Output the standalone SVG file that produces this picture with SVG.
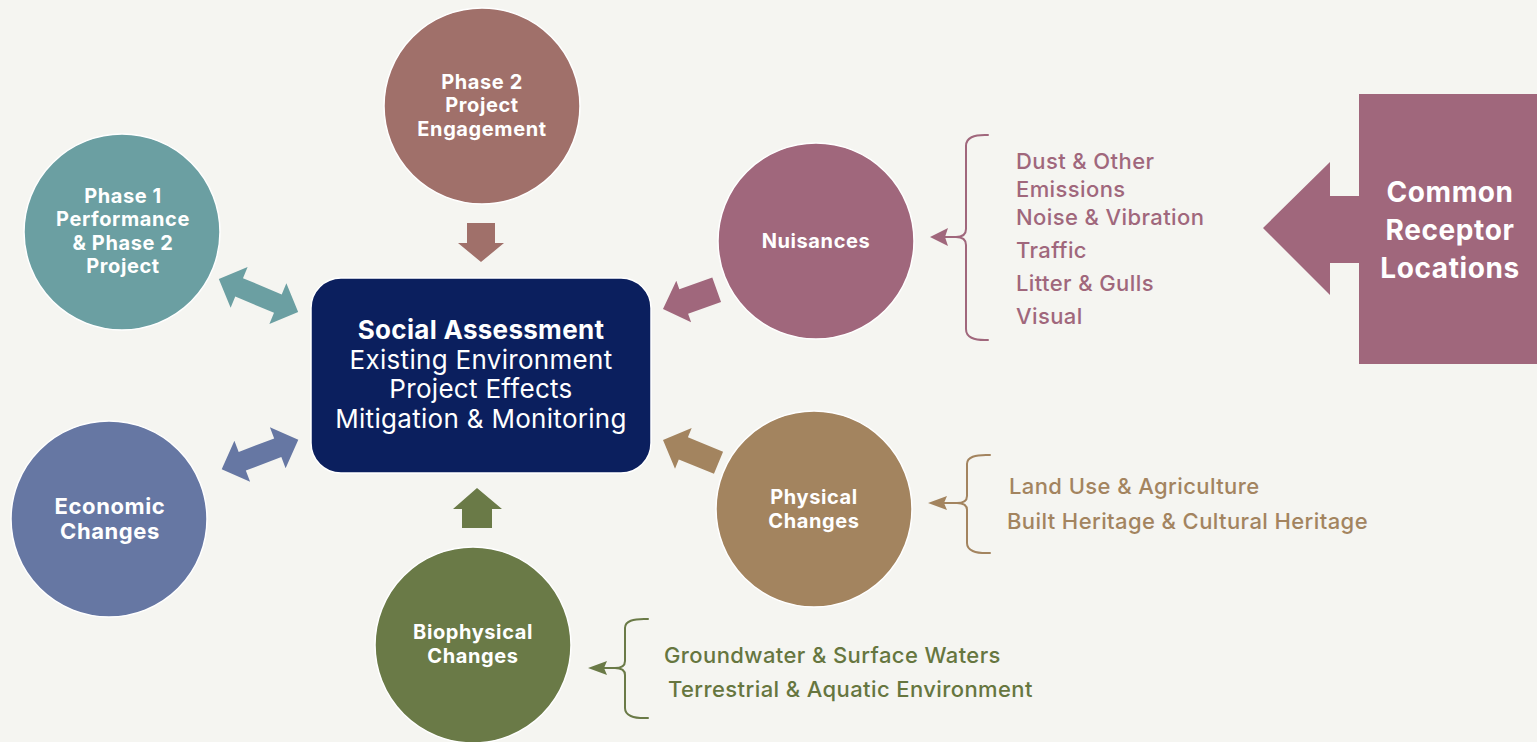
<svg xmlns="http://www.w3.org/2000/svg" width="1537" height="742" viewBox="0 0 1537 742">
  <style>
    .bg { fill: #f5f5f1; }
    .node circle { stroke: #ffffff; stroke-width: 1.5; }
    .lbl { font-family: Inter, "Open Sans", "Liberation Sans", sans-serif; font-weight: 700; fill: #ffffff; text-anchor: middle; letter-spacing: 0.6px; }
    .core { font-family: Inter, "Open Sans", "Liberation Sans", sans-serif; font-size: 26px; fill: #ffffff; text-anchor: middle; letter-spacing: 0.3px; }
    .list { font-family: Inter, "Open Sans", "Liberation Sans", sans-serif; font-weight: 500; font-size: 22px; letter-spacing: 0.4px; }
    .brace { fill: none; stroke-width: 2; stroke-linecap: round; stroke-linejoin: round; }
    .mauve { fill: #a0677c; }
    .tan { fill: #a3845f; }
    .olive { fill: #6a7a47; }
  </style>
  <rect class="bg" x="0" y="0" width="1537" height="742"/>

  <!-- central node -->
  <g id="social-assessment">
    <rect x="311" y="278" width="340" height="195" rx="30" fill="#0b1f5e" stroke="#ffffff" stroke-width="1.5"/>
    <text class="core" x="481" y="339" font-weight="700" font-size="25.3" letter-spacing="0">Social Assessment</text>
    <text class="core" x="481" y="369">Existing Environment</text>
    <text class="core" x="481" y="398">Project Effects</text>
    <text class="core" x="481" y="428">Mitigation &amp; Monitoring</text>
  </g>

  <!-- circles -->
  <g id="phase2-engagement" class="node">
    <circle cx="482" cy="106" r="98" fill="#a0706a"/>
    <text class="lbl" font-size="20" x="482" y="89">Phase 2</text>
    <text class="lbl" font-size="20" x="482" y="112">Project</text>
    <text class="lbl" font-size="20" x="482" y="136">Engagement</text>
  </g>
  <g id="phase1-performance" class="node">
    <circle cx="122" cy="232" r="98" fill="#6b9fa2"/>
    <text class="lbl" font-size="20" x="123" y="203">Phase 1</text>
    <text class="lbl" font-size="20" x="123" y="226">Performance</text>
    <text class="lbl" font-size="20" x="123" y="250">&amp; Phase 2</text>
    <text class="lbl" font-size="20" x="123" y="273">Project</text>
  </g>
  <g id="economic-changes" class="node">
    <circle cx="109" cy="519" r="98" fill="#6677a3"/>
    <text class="lbl" font-size="22" x="110" y="514">Economic</text>
    <text class="lbl" font-size="22" x="110" y="539">Changes</text>
  </g>
  <g id="biophysical-changes" class="node">
    <circle cx="473" cy="645" r="98" fill="#6a7a47"/>
    <text class="lbl" font-size="20" x="473" y="639">Biophysical</text>
    <text class="lbl" font-size="20" x="473" y="663">Changes</text>
  </g>
  <g id="nuisances" class="node">
    <circle cx="816" cy="241" r="98" fill="#a0677c"/>
    <text class="lbl" font-size="20" x="816" y="248">Nuisances</text>
  </g>
  <g id="physical-changes" class="node">
    <circle cx="814" cy="509" r="98" fill="#a3845f"/>
    <text class="lbl" font-size="20" x="814" y="504">Physical</text>
    <text class="lbl" font-size="20" x="814" y="528">Changes</text>
  </g>

  <!-- common receptor locations -->
  <g id="common-receptor-locations">
    <path class="mauve" d="M1359,94 H1537 V364 H1359 V263 H1330 V295 L1263,228 L1330,162 V196 H1359 Z"/>
    <text class="lbl" font-size="28" x="1450" y="202">Common</text>
    <text class="lbl" font-size="28" x="1450" y="240">Receptor</text>
    <text class="lbl" font-size="28" x="1450" y="278">Locations</text>
  </g>

  <!-- lists -->
  <g id="nuisance-list">
    <text class="list" fill="#a0677c" x="1016" y="169">Dust &amp; Other</text>
    <text class="list" fill="#a0677c" x="1016" y="197">Emissions</text>
    <text class="list" fill="#a0677c" x="1016" y="225">Noise &amp; Vibration</text>
    <text class="list" fill="#a0677c" x="1016" y="258">Traffic</text>
    <text class="list" fill="#a0677c" x="1016" y="291">Litter &amp; Gulls</text>
    <text class="list" fill="#a0677c" x="1016" y="324">Visual</text>
  </g>
  <g id="physical-list">
    <text class="list" fill="#a3845f" x="1009" y="494">Land Use &amp; Agriculture</text>
    <text class="list" fill="#a3845f" x="1007" y="529">Built Heritage &amp; Cultural Heritage</text>
  </g>
  <g id="biophysical-list">
    <text class="list" fill="#66763f" x="664" y="663">Groundwater &amp; Surface Waters</text>
    <text class="list" fill="#66763f" x="668" y="697">Terrestrial &amp; Aquatic Environment</text>
  </g>

  <!-- connectors -->
  <g id="connectors">
    <!-- block arrows into the central node -->
    <path fill="#a0706a" d="M467,223 H495 V243 H504 L481,262 L458,243 H467 Z"/>
    <path fill="#6a7a47" d="M462,528 V509 H453 L477,488 L502,509 H492 V528 Z"/>
    <path fill="#6b9fa2" transform="translate(258.5,295.5) rotate(22.7)" d="M-43,0 L-21,-22 L-21,-10 L21,-10 L21,-22 L43,0 L21,22 L21,10 L-21,10 L-21,22 Z"/>
    <path fill="#6677a3" transform="translate(260,454.5) rotate(-20.9)" d="M-41,0 L-19,-22 L-19,-10 L19,-10 L19,-22 L41,0 L19,22 L19,10 L-19,10 L-19,22 Z"/>
    <path class="mauve" transform="translate(663,309) rotate(-19.7)" d="M0,0 L22,-22 L22,-13 L57,-13 L57,13 L22,13 L22,22 Z"/>
    <path class="tan" transform="translate(663,440) rotate(22.3)" d="M0,0 L22,-22 L22,-12 L60,-12 L60,12 L22,12 L22,22 Z"/>

    <!-- braces with pointers -->
    <path class="brace" stroke="#a0677c" d="M988,135 Q966,134 966,146 V229 Q966,237 956,237 Q966,237 966,245 V329 Q966,341 988,340"/>
    <path class="brace" stroke="#a0677c" d="M944,237 H958"/>
    <path class="mauve" d="M930,237 L948,228 L945,237 L948,246 Z"/>

    <path class="brace" stroke="#a3845f" d="M990,455 Q967,454 967,464 V496 Q967,503 957,503 Q967,503 967,510 V543 Q967,554 990,553"/>
    <path class="brace" stroke="#a3845f" d="M943,503 H958"/>
    <path class="tan" d="M928,503 L947,496 L944,503 L947,510 Z"/>

    <path class="brace" stroke="#6a7a47" d="M648,619 Q625,618 625,628 V661 Q625,668 615,668 Q625,668 625,675 V708 Q625,719 648,718"/>
    <path class="brace" stroke="#6a7a47" d="M602,668 H616"/>
    <path class="olive" d="M588,668 L607,661 L604,668 L607,675 Z"/>
  </g>
</svg>
